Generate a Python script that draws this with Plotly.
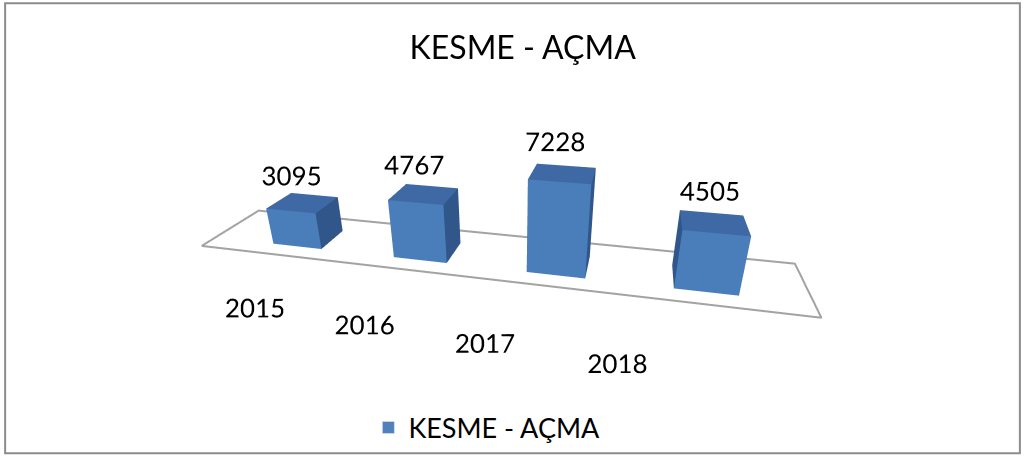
import plotly.graph_objects as go

years = ["2015", "2016", "2017", "2018"]
values = [3095, 4767, 7228, 4505]
series_name = "KESME - AÇMA"

FRONT = "#4A7EBB"
SIDE = "#30568A"
TOP = "#3E69A5"

BAR_W = 0.205    # half width in category units
BAR_D = 0.185    # half depth
FLOOR_X = (-0.72, 3.66)
FLOOR_Y = (-0.36, 0.43)

XR = [-0.8, 3.8]
YR = [-1.8, 0.8]
ZR = [-5500, 10000]


def cuboid(cx, h):
    x0, x1 = cx - BAR_W, cx + BAR_W
    y0, y1 = -BAR_D, BAR_D
    xs = [x0, x1, x1, x0, x0, x1, x1, x0]
    ys = [y0, y0, y1, y1, y0, y0, y1, y1]
    zs = [0, 0, 0, 0, h, h, h, h]
    faces = [
        (0, 1, 2, SIDE), (0, 2, 3, SIDE),      # bottom
        (4, 5, 6, TOP), (4, 6, 7, TOP),        # top
        (0, 1, 5, FRONT), (0, 5, 4, FRONT),    # front
        (3, 2, 6, SIDE), (3, 6, 7, SIDE),      # back
        (0, 3, 7, SIDE), (0, 7, 4, SIDE),      # left
        (1, 2, 6, SIDE), (1, 6, 5, SIDE),      # right
    ]
    return xs, ys, zs, faces


X, Y, Z, I, J, K, FC = [], [], [], [], [], [], []
for idx, v in enumerate(values):
    xs, ys, zs, faces = cuboid(idx, v)
    off = len(X)
    X += xs
    Y += ys
    Z += zs
    for a, b, c, col in faces:
        I.append(a + off)
        J.append(b + off)
        K.append(c + off)
        FC.append(col)

fig = go.Figure()

# floor outline
fx = [FLOOR_X[0], FLOOR_X[1], FLOOR_X[1], FLOOR_X[0], FLOOR_X[0]]
fy = [FLOOR_Y[0], FLOOR_Y[0], FLOOR_Y[1], FLOOR_Y[1], FLOOR_Y[0]]
fig.add_trace(go.Scatter3d(
    x=fx, y=fy, z=[0] * 5, mode="lines",
    line=dict(color="#A3A3A3", width=4),
    showlegend=False, hoverinfo="skip"
))

fig.add_trace(go.Mesh3d(
    x=X, y=Y, z=Z, i=I, j=J, k=K, facecolor=FC,
    flatshading=True,
    lighting=dict(ambient=1, diffuse=0, specular=0, roughness=1, fresnel=0),
    showlegend=False, hoverinfo="skip"
))

# value labels
fig.add_trace(go.Scatter3d(
    x=[i - 0.06 for i in range(len(values))], y=[0] * len(values),
    z=[v + 2250 for v in values],
    mode="text", text=[str(v) for v in values], textposition="middle center",
    textfont=dict(family="Lato, sans-serif", size=26, color="#000000"),
    showlegend=False, hoverinfo="skip"
))

# category labels (Excel draws them in front of the floor, drifting left)
fig.add_trace(go.Scatter3d(
    x=[0.837 * i - 0.02 for i in range(len(years))],
    y=[-0.9] * len(years), z=[-4750] * len(years),
    mode="text", text=years,
    textfont=dict(family="Lato, sans-serif", size=26, color="#000000"),
    showlegend=False, hoverinfo="skip"
))

# legend entry
fig.add_trace(go.Bar(x=[None], y=[None], name=series_name,
                     marker_color="#4F81BD", showlegend=True))

hidden = dict(visible=False, showgrid=False, zeroline=False,
              showbackground=False, showspikes=False)

fig.update_layout(
    width=1025, height=457,
    paper_bgcolor="white", plot_bgcolor="white",
    margin=dict(l=0, r=0, t=0, b=0),
    title=dict(text="KESME - AÇMA", x=0.51, y=0.895, xanchor="center",
               yanchor="middle",
               font=dict(family="Lato, sans-serif", size=32, color="#000000")),
    xaxis=dict(visible=False), yaxis=dict(visible=False),
    scene=dict(
        domain=dict(x=[0.0, 1.0], y=[0.0, 1.0]),
        xaxis=dict(range=XR, **hidden),
        yaxis=dict(range=YR, **hidden),
        zaxis=dict(range=ZR, **hidden),
        aspectmode="manual",
        aspectratio=dict(x=2.6, y=1.3, z=0.836),
        camera=dict(eye=dict(x=0.531, y=-1.715, z=0.969),
                    center=dict(x=0.173, y=-0.127, z=0.201),
                    projection=dict(type="perspective")),
        dragmode=False,
    ),
    legend=dict(orientation="h", x=0.475, xanchor="center", y=0.01,
                yanchor="bottom",
                font=dict(family="Lato, sans-serif", size=27, color="#000000")),
    shapes=[dict(type="rect", xref="paper", yref="paper",
                 x0=0.005, y0=0.008, x1=0.995, y1=0.993,
                 line=dict(color="#8C8C8C", width=2))],
    showlegend=True,
)

fig.write_html("out.html", config={"displayModeBar": False},
               post_script="document.body.style.margin='0';"
                           "document.body.style.overflow='hidden';")
